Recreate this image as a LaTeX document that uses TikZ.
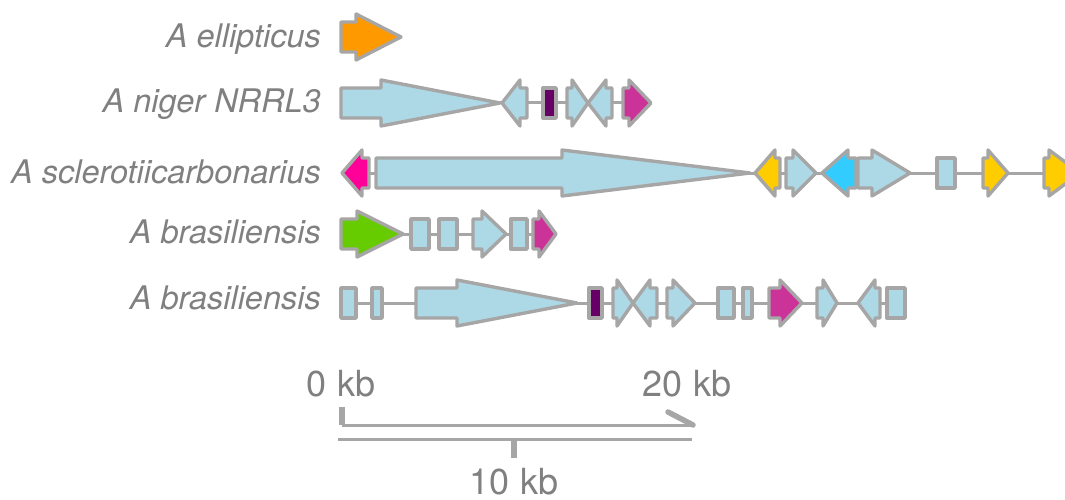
\documentclass[tikz,border=0pt]{standalone}
\usepackage{fontspec}
\setmainfont{TeX Gyre Heros}
\definecolor{txtgray}{HTML}{808080}
\definecolor{lngray}{HTML}{A6A6A6}
\definecolor{lblue}{HTML}{ADD8E6}
\definecolor{gorange}{HTML}{FF9900}
\definecolor{gpurple}{HTML}{660066}
\definecolor{gmagenta}{HTML}{CC3399}
\definecolor{gpink}{HTML}{FF0099}
\definecolor{gyellow}{HTML}{FFCC00}
\definecolor{gcyan}{HTML}{33CCFF}
\definecolor{ggreen}{HTML}{66CC00}
\tikzset{
  gene/.style={draw=lngray, line width=3.4pt, line join=round},
  backbone/.style={draw=lngray, line width=3pt},
  sp/.style={font=\fontsize{32.5}{38}\selectfont\itshape, text=txtgray, anchor=base east, inner sep=0pt},
  scl/.style={font=\fontsize{36}{42}\selectfont, text=txtgray, anchor=base, inner sep=0pt},
  tick/.style={draw=lngray, line width=5.5pt},
}
% right-pointing gene: L H T y color
\newcommand\gR[5]{\draw[gene,fill=#5] (#1,#4-15) -- (#2,#4-15) -- (#2,#4-23) -- (#3,#4) -- (#2,#4+23) -- (#2,#4+15) -- (#1,#4+15) -- cycle;}
% left-pointing gene: T H R y color
\newcommand\gL[5]{\draw[gene,fill=#5] (#3,#4-15) -- (#2,#4-15) -- (#2,#4-23) -- (#1,#4) -- (#2,#4+23) -- (#2,#4+15) -- (#3,#4+15) -- cycle;}
% box gene: L R y color
\newcommand\gB[4]{\draw[gene,fill=#4] (#1,#3-15) rectangle (#2,#3+15);}
\begin{document}
\begin{tikzpicture}[x=1pt,y=-1pt]
\useasboundingbox (0,0) rectangle (1065,500);
\begin{scope}
\clip (0,0) rectangle (1065,500);
% labels
\node[sp] (l1) at (321,48) {A ellipticus};
\node[sp] (l2) at (321,113) {A niger NRRL3};
\node[sp] (l3) at (321,183) {A sclerotiicarbonarius};
\node[sp] (l4) at (321,243) {A brasiliensis};
\node[sp] (l5) at (321,309) {A brasiliensis};
% row 1
\gR{341}{356}{401}{37}{gorange}
% row 2
\draw[backbone] (341,103) -- (651,103);
\gR{341}{381}{500}{103}{lblue}
\gL{502}{520}{527}{103}{lblue}
\gB{543}{556}{103}{gpurple}
\gR{567}{572}{588}{103}{lblue}
\gL{588}{606}{612}{103}{lblue}
\gR{623}{629}{651}{103}{gmagenta}
% row 3
\draw[backbone] (342,173) -- (1065,173);
\gL{342}{362}{369}{173}{gpink}
\gR{376}{562}{750}{173}{lblue}
\gL{755}{775}{780}{173}{gyellow}
\gR{786}{793}{816}{173}{lblue}
\gL{822}{848}{856}{173}{gcyan}
\gR{858}{872}{910}{173}{lblue}
\gB{937}{955}{173}{lblue}
\gR{983}{988}{1008}{173}{gyellow}
\gR{1044}{1049}{1080}{173}{gyellow}
% row 4
\draw[backbone] (341,234) -- (556,234);
\gR{341}{357}{403}{234}{ggreen}
\gB{411}{429}{234}{lblue}
\gB{439}{457}{234}{lblue}
\gR{473}{482}{506}{234}{lblue}
\gB{511}{527}{234}{lblue}
\gR{533}{539}{556}{234}{gmagenta}
% row 5
\draw[backbone] (341,303) -- (905,303);
\gB{341}{356}{303}{lblue}
\gB{372}{382}{303}{lblue}
\gR{416}{457}{577}{303}{lblue}
\gB{589}{602}{303}{gpurple}
\gR{613}{617}{633}{303}{lblue}
\gL{633}{650}{657}{303}{lblue}
\gR{667}{673}{695}{303}{lblue}
\gB{718}{734}{303}{lblue}
\gB{743}{752}{303}{lblue}
\gR{769}{780}{802}{303}{gmagenta}
\gR{817}{823}{837}{303}{lblue}
\gL{858}{875}{880}{303}{lblue}
\gB{887}{905}{303}{lblue}
% scale
\node[scl] (s0) at (341,396) {0 kb};
\node[scl] (s20) at (687,396) {20 kb};
\node[scl] (s10) at (514,494) {10 kb};
\coordinate (a0) at (342,425);
\coordinate (a20) at (693,425);
\coordinate (a20t) at (668,412);
\coordinate (a0t) at (342,407);
\coordinate (b0) at (338,439);
\coordinate (b20) at (692,439);
\coordinate (b10) at (514,439);
\coordinate (b10t) at (514,458);
\draw[backbone] (a0) -- (a20);
\draw[tick] (a0t) -- (a0);
\draw[tick, line cap=round] (a20t) -- (a20);
\draw[backbone] (b0) -- (b20);
\draw[tick] (b10) -- (b10t);
\end{scope}
\end{tikzpicture}
\end{document}
